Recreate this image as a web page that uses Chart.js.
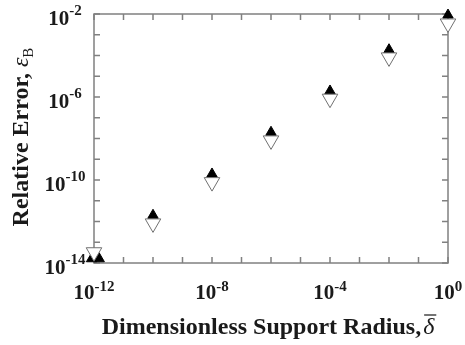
<!DOCTYPE html>
<html>
<head>
<meta charset="utf-8">
<script src="https://cdn.jsdelivr.net/npm/chart.js@4"></script>
<style>
  html, body { margin: 0; padding: 0; background: #fff; }
  #wrap { width: 465px; height: 345px; position: relative; }
</style>
</head>
<body>
<div id="wrap"><canvas id="errorChart"></canvas></div>
<script>
// filled triangles (pointing up)
const upX = [8.3e-13, 1.5e-12, 1e-10, 1e-8, 1e-6, 1e-4, 1e-2, 1];
const upY = [1.6e-14, 1.6e-14, 2.0e-12, 1.95e-10, 2.0e-8, 1.95e-6, 1.9e-4, 8.9e-3];
// open triangles (pointing down)
const downX = [1e-12, 1e-10, 1e-8, 1e-6, 1e-4, 1e-2, 1];
const downY = [3.3e-14, 8.1e-13, 7.9e-11, 8.1e-9, 8.3e-7, 8.1e-5, 3.5e-3];

// tick marks every decade, labels every fourth decade
const xTickExps = [-12, -11, -10, -9, -8, -7, -6, -5, -4, -3, -2, -1, 0];
const xLabelExps = [-12, -8, -4, 0];
const yTickExps = [-14, -13, -12, -11, -10, -9, -8, -7, -6, -5, -4, -3, -2];
const yLabelExps = [-14, -10, -6, -2];

const SERIF = '"Liberation Serif", "Times New Roman", serif';
const INK = '#1a1a1a';
const AXIS = '#808080';

// "10" with a raised exponent, centred on cx
function drawPower(ctx, exp, cx, baseline, raise) {
  const base = '10';
  const sup = String(exp);
  ctx.font = 'bold 21px ' + SERIF;
  const wb = ctx.measureText(base).width;
  ctx.font = 'bold 15px ' + SERIF;
  const ws = ctx.measureText(sup).width;
  const left = cx - (wb + ws) / 2;
  ctx.textAlign = 'left';
  ctx.textBaseline = 'alphabetic';
  ctx.font = 'bold 21px ' + SERIF;
  ctx.fillText(base, left, baseline);
  ctx.font = 'bold 15px ' + SERIF;
  ctx.fillText(sup, left + wb, baseline - raise);
}

const framePlugin = {
  id: 'frame',
  beforeDatasetsDraw(chart) {
    const ctx = chart.ctx;
    const a = chart.chartArea;
    const xs = chart.scales.x, ys = chart.scales.y;
    const tick = 6;
    ctx.save();
    ctx.strokeStyle = AXIS;
    ctx.lineWidth = 1.5;
    ctx.strokeRect(a.left, a.top, a.right - a.left, a.bottom - a.top);
    ctx.beginPath();
    xs.ticks.forEach(t => {
      const px = xs.getPixelForValue(t.value);
      ctx.moveTo(px, a.bottom); ctx.lineTo(px, a.bottom - tick);
      ctx.moveTo(px, a.top); ctx.lineTo(px, a.top + tick);
    });
    ys.ticks.forEach(t => {
      const py = ys.getPixelForValue(t.value);
      ctx.moveTo(a.left, py); ctx.lineTo(a.left + tick, py);
      ctx.moveTo(a.right, py); ctx.lineTo(a.right - tick, py);
    });
    ctx.stroke();

    // tick labels
    ctx.fillStyle = INK;
    xLabelExps.forEach(e => {
      drawPower(ctx, e, xs.getPixelForValue(Math.pow(10, e)), a.bottom + 36, 8);
    });
    yLabelExps.forEach(e => {
      drawPower(ctx, e, 65, ys.getPixelForValue(Math.pow(10, e)) + 11, 10);
    });

    // x title
    const xt = 'Dimensionless Support Radius,';
    ctx.font = 'bold 24px ' + SERIF;
    const w1 = ctx.measureText(xt).width;
    ctx.font = 'italic 24px ' + SERIF;
    const w2 = ctx.measureText('\u03B4').width;
    const left = 268 - (w1 + 2 + w2) / 2;
    ctx.textAlign = 'left';
    ctx.font = 'bold 24px ' + SERIF;
    ctx.fillText(xt, left, 334);
    ctx.font = 'italic 24px ' + SERIF;
    const dx = left + w1 + 2;
    ctx.fillText('\u03B4', dx, 334);
    ctx.beginPath();
    ctx.strokeStyle = INK;
    ctx.lineWidth = 1.2;
    ctx.moveTo(dx + 1, 315); ctx.lineTo(dx + w2 + 2, 315);
    ctx.stroke();

    // y title, rotated
    ctx.translate(28, 137);
    ctx.rotate(-Math.PI / 2);
    const yt = 'Relative Error, ';
    ctx.font = 'bold 24px ' + SERIF;
    const v1 = ctx.measureText(yt).width;
    ctx.font = 'italic 24px ' + SERIF;
    const v2 = ctx.measureText('\u03B5').width;
    ctx.font = '15px ' + SERIF;
    const v3 = ctx.measureText('B').width;
    const s = -(v1 + v2 + v3) / 2;
    ctx.font = 'bold 24px ' + SERIF;
    ctx.fillText(yt, s, 0);
    ctx.font = 'italic 24px ' + SERIF;
    ctx.fillText('\u03B5', s + v1, 0);
    ctx.font = '15px ' + SERIF;
    ctx.fillText('B', s + v1 + v2, 5);
    ctx.restore();
  }
};

new Chart(document.getElementById('errorChart'), {
  type: 'scatter',
  data: {
    datasets: [
      {
        label: 'open',
        data: downX.map((x, i) => ({ x: x, y: downY[i] })),
        pointStyle: 'triangle',
        rotation: 180,
        pointRadius: 9,
        pointHoverRadius: 9,
        backgroundColor: '#ffffff',
        borderColor: '#707070',
        borderWidth: 1,
        clip: false
      },
      {
        label: 'filled',
        data: upX.map((x, i) => ({ x: x, y: upY[i] })),
        pointStyle: 'triangle',
        pointRadius: 6,
        pointHoverRadius: 6,
        backgroundColor: '#000000',
        borderColor: '#000000',
        borderWidth: 1,
        clip: false
      }
    ]
  },
  options: {
    responsive: true,
    maintainAspectRatio: false,
    animation: false,
    events: [],
    layout: { padding: { top: 14, right: 17, left: 0, bottom: 0 } },
    plugins: { legend: { display: false }, tooltip: { enabled: false } },
    scales: {
      x: {
        type: 'logarithmic',
        min: 1e-12,
        max: 1,
        grid: { display: false },
        border: { display: false },
        ticks: { display: false },
        afterBuildTicks: s => { s.ticks = xTickExps.map(e => ({ value: Math.pow(10, e) })); },
        afterFit: s => { s.height = 82; }
      },
      y: {
        type: 'logarithmic',
        min: 1e-14,
        max: 1e-2,
        grid: { display: false },
        border: { display: false },
        ticks: { display: false },
        afterBuildTicks: s => { s.ticks = yTickExps.map(e => ({ value: Math.pow(10, e) })); },
        afterFit: s => { s.width = 94; }
      }
    }
  },
  plugins: [framePlugin]
});
</script>
</body>
</html>
